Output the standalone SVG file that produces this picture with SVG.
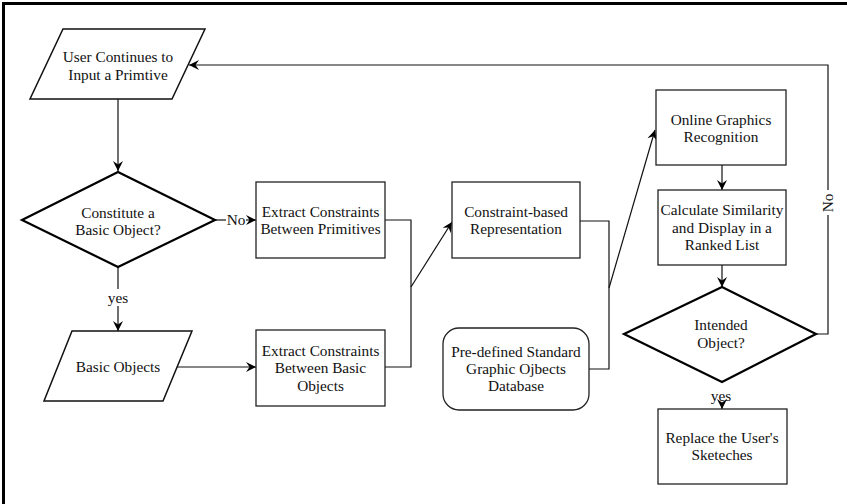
<svg xmlns="http://www.w3.org/2000/svg" width="847" height="504" viewBox="0 0 847 504">
<style>
  .bg { fill: #ffffff; }
  .frame { stroke: #000; stroke-width: 3; fill: none; }
  .box { fill: #fff; stroke: #222; stroke-width: 1.3; }
  .para { fill: #fff; stroke: #111; stroke-width: 1.5; }
  .dia { fill: #fff; stroke: #000; stroke-width: 2.2; }
  .ln { fill: none; stroke: #111; stroke-width: 1.2; }
  .t { font-family: 'Liberation Serif', 'DejaVu Serif', serif; font-size: 15.3px; fill: #111; text-anchor: middle; }
</style>
<defs>
  <marker id="ah" viewBox="0 0 10 10" refX="10" refY="5" markerWidth="11" markerHeight="10" markerUnits="userSpaceOnUse" orient="auto">
    <path d="M0,0 L10,5 L0,10 L3.5,5 z" fill="#000"/>
  </marker>
</defs>
<rect class="bg" x="0" y="0" width="847" height="504"/>
<path class="frame" d="M3.5,504 L3.5,3.5 L847,3.5"/>

<g id="connectors">
  <path class="ln" d="M118,99 L118,171" marker-end="url(#ah)"/>
  <path class="ln" d="M215,220 L226,220"/>
  <path class="ln" d="M246,220 L256,220" marker-end="url(#ah)"/>
  <path class="ln" d="M118,267 L118,289"/>
  <path class="ln" d="M118,306 L118,331" marker-end="url(#ah)"/>
  <path class="ln" d="M177,367 L256,367" marker-end="url(#ah)"/>
  <path class="ln" d="M385,220 L411,220 L411,367 L385,367"/>
  <path class="ln" d="M411,287 L452,222" marker-end="url(#ah)"/>
  <path class="ln" d="M580,221 L609,221 L609,369 L589,369"/>
  <path class="ln" d="M609,288 L655,130" marker-end="url(#ah)"/>
  <path class="ln" d="M722,165 L722,190" marker-end="url(#ah)"/>
  <path class="ln" d="M722,265 L722,287" marker-end="url(#ah)"/>
  <path class="ln" d="M722,403 L722,409" marker-end="url(#ah)"/>
  <path class="ln" d="M816,334 L828,334 L828,215"/>
  <path class="ln" d="M828,190 L828,65 L189,65" marker-end="url(#ah)"/>
  <text class="t" x="236" y="225">No</text>
  <text class="t" x="118" y="303">yes</text>
  <text class="t" x="721" y="401">yes</text>
  <text class="t" transform="translate(833,203) rotate(-90)">No</text>
</g>

<g id="n_input">
  <polygon class="para" points="63,29 205,29 172,99 30,99"/>
  <text class="t" x="118" y="62">User Continues to</text>
  <text class="t" x="118" y="80">Input a Primtive</text>
</g>

<g id="n_constitute">
  <polygon class="dia" points="118,172 215,220 118,267 22,220"/>
  <text class="t" x="118" y="218">Constitute a</text>
  <text class="t" x="118" y="235">Basic Object?</text>
</g>

<g id="n_extract_prim">
  <rect class="box" x="256" y="182" width="129" height="76"/>
  <text class="t" x="320.5" y="217">Extract Constraints</text>
  <text class="t" x="320.5" y="234">Between Primitives</text>
</g>

<g id="n_basic">
  <polygon class="para" points="72,331 192,331 163,401 44,401"/>
  <text class="t" x="118" y="372">Basic Objects</text>
</g>

<g id="n_extract_basic">
  <rect class="box" x="256" y="330" width="129" height="76"/>
  <text class="t" x="320.5" y="356">Extract Constraints</text>
  <text class="t" x="320.5" y="373">Between Basic</text>
  <text class="t" x="320.5" y="391">Objects</text>
</g>

<g id="n_constraint_rep">
  <rect class="box" x="452" y="182" width="128" height="76"/>
  <text class="t" x="516" y="217">Constraint-based</text>
  <text class="t" x="516" y="234">Representation</text>
</g>

<g id="n_database">
  <rect class="box" x="443" y="328" width="146" height="82" rx="16" ry="16"/>
  <text class="t" x="516" y="357">Pre-defined Standard</text>
  <text class="t" x="516" y="374">Graphic Ojbects</text>
  <text class="t" x="516" y="391">Database</text>
</g>

<g id="n_online">
  <rect class="box" x="656" y="90" width="130" height="75"/>
  <text class="t" x="721" y="125">Online Graphics</text>
  <text class="t" x="721" y="142">Recognition</text>
</g>

<g id="n_calculate">
  <rect class="box" x="658" y="190" width="128" height="75"/>
  <text class="t" x="722" y="215">Calculate Similarity</text>
  <text class="t" x="722" y="233">and Display in a</text>
  <text class="t" x="722" y="250">Ranked List</text>
</g>

<g id="n_intended">
  <polygon class="dia" points="722,287 816,334 722,382 624,334"/>
  <text class="t" x="721" y="330">Intended</text>
  <text class="t" x="721" y="348">Object?</text>
</g>

<g id="n_replace">
  <rect class="box" x="658" y="409" width="129" height="75"/>
  <text class="t" x="722" y="443">Replace the User's</text>
  <text class="t" x="722" y="460">Sketeches</text>
</g>
</svg>
